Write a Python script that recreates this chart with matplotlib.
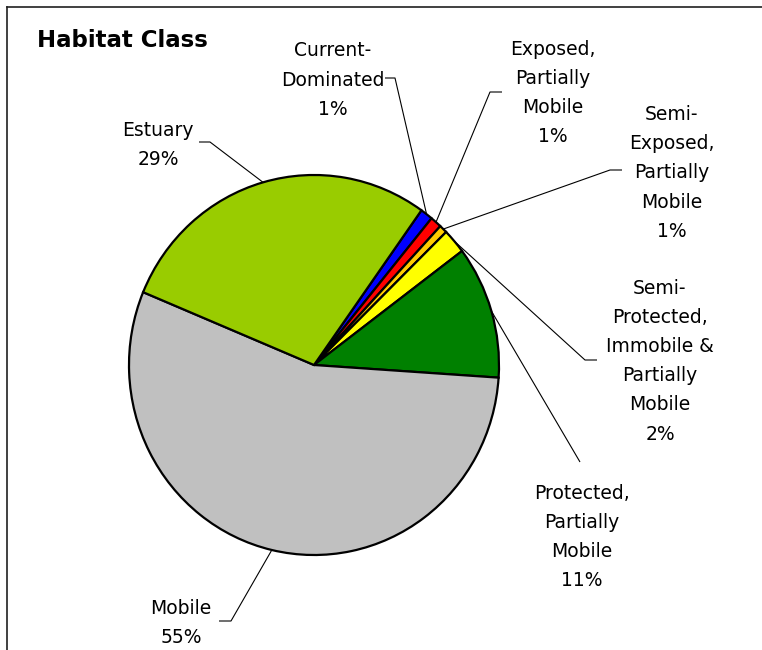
import numpy as np
import matplotlib
matplotlib.use("Agg")
import matplotlib.pyplot as plt
from matplotlib.lines import Line2D

plt.rcParams['font.family'] = ['DejaVu Sans']

# ---- data ----
categories = ["Current-\nDominated", "Exposed,\nPartially\nMobile", "Semi-\nExposed,\nPartially\nMobile",
              "Semi-\nProtected,\nImmobile &\nPartially\nMobile", "Protected,\nPartially\nMobile",
              "Mobile", "Estuary"]
values = [1.1, 1.0, 0.7, 2.1, 11.3, 55.2, 28.6]
pct_labels = ["1%", "1%", "1%", "2%", "11%", "55%", "29%"]
colors = ["#0000FF", "#FF0000", "#FFCC00", "#FFFF00", "#008000", "#C0C0C0", "#99CC00"]
title = "Habitat Class"

# ---- layout (pixel based) ----
W, H = 762, 650
K = 185 / 190.0  # slight vertical stretch of the pie as in the reference


def P(x, y):
    return (x, (H - y) * K)


fig = plt.figure(figsize=(W / 100, H / 100), dpi=100)
ax = fig.add_axes([0, 0, 1, 1])
cx, cy = P(314, 365)
R = 185
wedges, _ = ax.pie(values, colors=colors, startangle=54.5, counterclock=False,
                   center=(cx, cy), radius=R,
                   wedgeprops=dict(edgecolor='black', linewidth=1.6))
ax.set_aspect('auto')
ax.set_xlim(0, W)
ax.set_ylim(0, H * K)
ax.axis('off')

# label text centers and leader elbows (pixel coords)
label_pos = [(333, 80), (553, 93), (672, 173), (660, 361), (582, 537), (181, 623), (158, 145)]
elbows = [[(395, 78), (385, 78)],
          [(490, 92), (502, 92)],
          [(610, 170), (622, 170)],
          [(585, 360), (597, 360)],
          [(580, 462)],
          [(231, 621), (219, 621)],
          [(210, 142), (199, 142)]]

for w, cat, pct, (lx, ly), elb in zip(wedges, categories, pct_labels, label_pos, elbows):
    mid = np.deg2rad((w.theta1 + w.theta2) / 2)
    x0 = cx + R * np.cos(mid)
    y0 = cy + R * np.sin(mid)
    xs = [x0] + [P(*e)[0] for e in elb]
    ys = [y0] + [P(*e)[1] for e in elb]
    ax.plot(xs, ys, color='black', lw=0.8, solid_capstyle='butt')
    tx, ty = P(lx, ly)
    ax.text(tx, ty, cat + "\n" + pct, ha='center', va='center', multialignment='center',
            fontsize=13.5, linespacing=1.68, color='black')

ax.text(*P(37, 40), title, ha='left', va='center', fontsize=16.5, fontweight='bold')

# outer frame (top and left borders)
fig.add_artist(Line2D([7 / W, 1], [1 - 7 / H, 1 - 7 / H], transform=fig.transFigure,
                      color='#202020', lw=1.2))
fig.add_artist(Line2D([7 / W, 7 / W], [0, 1 - 7 / H], transform=fig.transFigure,
                      color='#202020', lw=1.2))

fig.savefig("out.png", dpi=100)
